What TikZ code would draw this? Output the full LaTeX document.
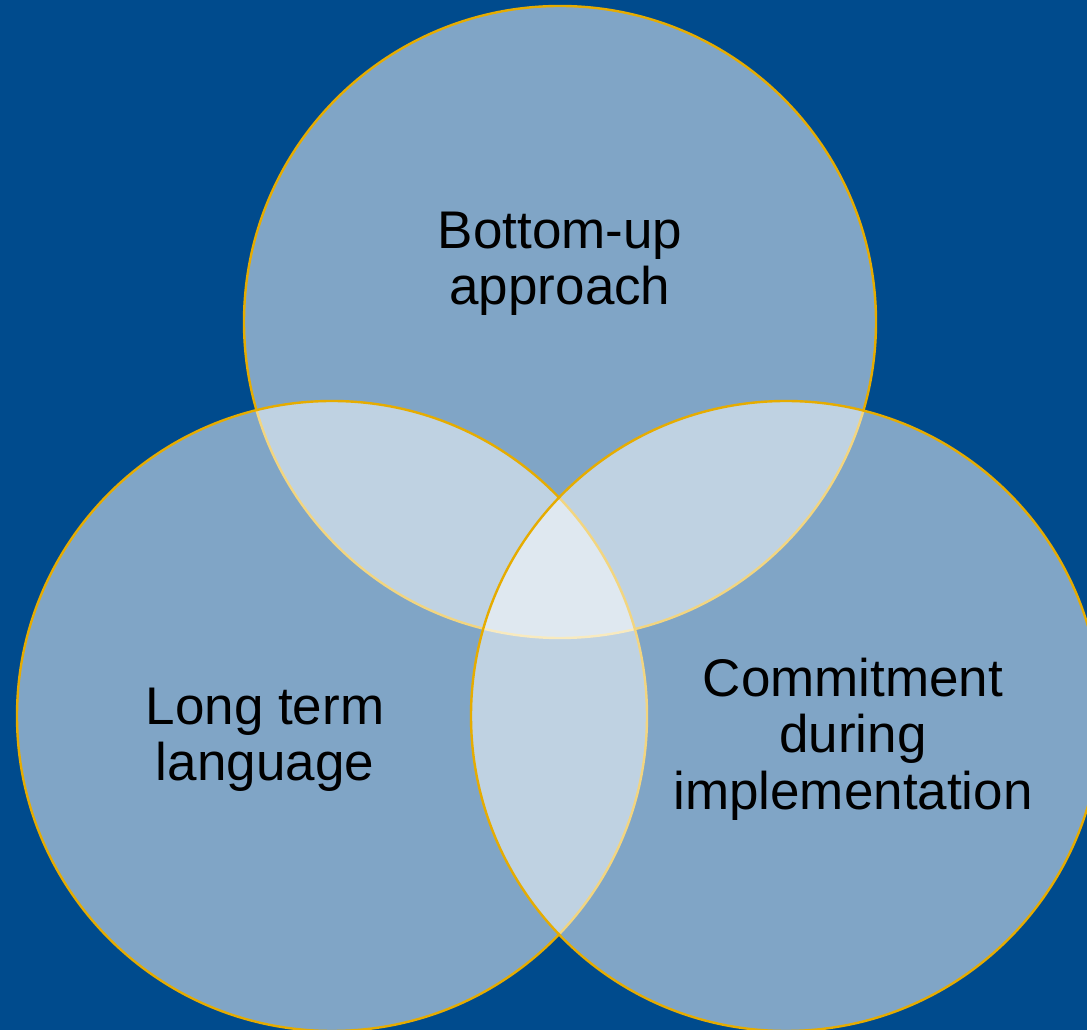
\documentclass[tikz,border=0pt]{standalone}
\usepackage{fontspec}
\setmainfont{Liberation Sans}
\definecolor{slideblue}{RGB}{0,75,141}
\definecolor{ringgold}{RGB}{230,172,0}
\tikzset{
    setcircle/.style={fill=white, fill opacity=0.5, draw=ringgold, line width=2.4pt},
    setlabel/.style={align=center, text=black, font=\fontsize{53}{56.5}\selectfont}
}
\begin{document}
\begin{tikzpicture}[x=1pt, y=1pt]
    % Background
    \useasboundingbox (0,0) rectangle (1087,1030);
    \clip (0,0) rectangle (1087,1030);
    \fill[slideblue] (0,0) rectangle (1087,1030);

    % Three overlapping sets
    \filldraw[setcircle] (560,708) circle (316);
    \filldraw[setcircle] (332,314) circle (315);
    \filldraw[setcircle] (786,314) circle (315);

    % Set labels
    \node[setlabel] (bottomup) at (560,766) {Bottom-up\\approach};
    \node[setlabel] (longterm) at (265,290) {Long term\\language};
    \node[setlabel] (commitment) at (853,291) {Commitment\\during\\implementation};
\end{tikzpicture}
\end{document}
